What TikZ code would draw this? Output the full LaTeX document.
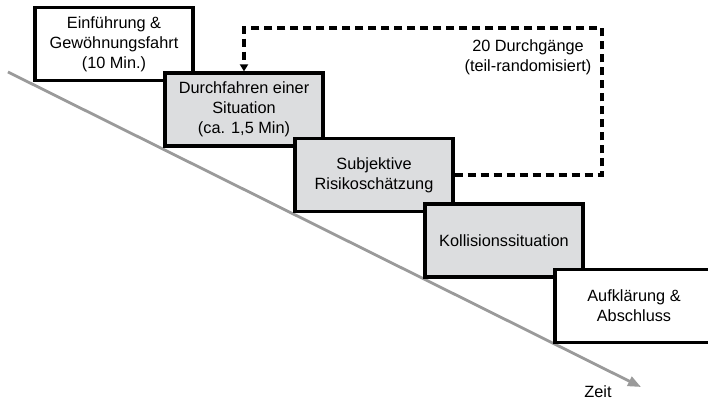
\documentclass[tikz,border=0pt]{standalone}
\usepackage{fontspec}
\setmainfont{Liberation Sans}
\usetikzlibrary{arrows.meta}
\definecolor{boxgray}{HTML}{DCDDDF}
\definecolor{axisgray}{HTML}{9A9A9A}

\begin{document}
\begin{tikzpicture}[x=1pt, y=1pt,
    txt/.style={font=\fontsize{16.3}{20}\selectfont, align=center},
    stage/.style={txt, draw=black, line width=3.2pt, minimum width=158pt,
                  minimum height=73pt, inner sep=0pt},
    loop/.style={line width=3.2pt, dash pattern=on 8pt off 5pt,
                 -{Triangle[length=7pt, width=8pt]}}]
  \useasboundingbox (0,0) rectangle (708,401);
  % time axis running down to the right
  \coordinate (t0) at (8,329);
  \coordinate (t1) at (641,14);
  \draw[axisgray, line width=2.8pt, -{Triangle[length=13pt, width=10pt]}] (t0) -- (t1);
  \node[txt] (zeit) at (598,9) {Zeit};
  % the stages, one step down and right each
  \foreach \n/\x/\y/\col/\lbl in {
      intro/114/357/white/{Einführung \&\\Gewöhnungsfahrt\\(10 Min.)},
      drive/244/291.5/boxgray/{Durchfahren einer\\Situation\\(ca. 1,5 Min)},
      rating/374/226/boxgray/{Subjektive\\Risikoschätzung},
      crash/504/160.5/boxgray/{Kollisionssituation},
      debrief/634/95/white/{Aufklärung \&\\Abschluss}}{
    \node[stage, fill=\col] (\n) at (\x,\y) {\lbl};
  }
  % repetition loop back to the drive
  \coordinate (loopcorner) at (602,373);
  \draw[loop] (rating.east) -| (loopcorner) -| (drive.north);
  \node[txt] (reps) at (528,344) {20 Durchgänge\\(teil-randomisiert)};
\end{tikzpicture}
\end{document}
